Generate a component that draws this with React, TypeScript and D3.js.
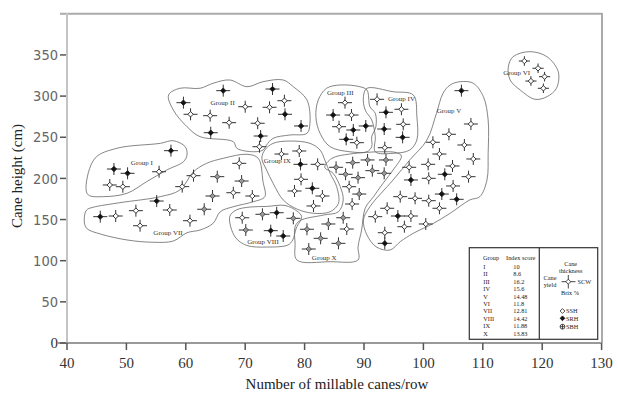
import React from "react";
import * as d3 from "d3";

type Pt = [number, number, string]; // x, y, type: o = SSH, b = SRH, g = SBH

const groupNames = ["I", "II", "III", "IV", "V", "VI", "VII", "VIII", "IX", "X"];
const indexScores = ["10", "8.6", "16.2", "15.6", "14.48", "11.8", "12.81", "14.42", "11.88", "13.83"];
const xTicks = [40, 50, 60, 70, 80, 90, 100, 110, 120, 130];
const yTicks = [0, 50, 100, 150, 200, 250, 300, 350];

const groupI: Pt[] = [
    [57.5, 233.7, "b"], [47.9, 211.4, "b"], [50.2, 206.2, "b"], [55.5, 208.1, "o"],
    [47.2, 192, "o"], [49.4, 189.9, "o"],
];
const groupII: Pt[] = [
    [59.6, 292, "b"], [60.8, 277.9, "o"], [66.3, 306.6, "b"], [64.1, 276.2, "o"],
    [67.3, 267.7, "o"], [70.0, 287.1, "o"], [64.2, 255.5, "b"], [74.6, 308.6, "b"],
    [76.6, 294.4, "o"], [74.1, 286.4, "o"], [76.7, 277.9, "b"], [72.1, 267, "o"],
    [79.4, 263.7, "b"], [72.6, 251.5, "b"], [72.4, 238.5, "o"],
];
const groupIII: Pt[] = [
    [86.8, 292, "o"], [84.8, 277, "b"], [87.9, 277, "o"], [85.8, 262.8, "o"],
    [88.2, 258.8, "b"], [90.3, 263.7, "b"], [87.0, 247.5, "b"], [88.8, 243.4, "o"],
];
const groupIV: Pt[] = [
    [92.2, 296.1, "o"], [93.7, 280.3, "b"], [96.3, 284, "o"], [93.4, 260, "b"],
    [96.6, 265.7, "o"], [96.5, 249.9, "b"], [93.5, 237.3, "o"],
];
const groupV: Pt[] = [
    [106.4, 306.6, "b"], [108.0, 266.1, "o"], [104.3, 253.6, "o"], [101.6, 243.9, "o"],
    [106.9, 240.6, "o"], [102.7, 229.6, "o"], [108.4, 223.6, "o"], [100.8, 217.1, "o"],
    [104.9, 215.1, "o"], [103.6, 205, "b"], [107.6, 202.1, "o"], [97.6, 213.5, "o"],
    [97.9, 198.1, "b"], [100.9, 200.1, "o"], [105.0, 190.8, "o"], [103.1, 181, "b"],
    [105.6, 174.6, "b"], [96.1, 177.8, "o"], [98.6, 175.8, "o"], [100.9, 172.9, "o"],
    [102.7, 163.7, "o"], [93.9, 163.7, "o"], [91.9, 153.5, "o"], [95.7, 154.3, "b"],
    [97.9, 154.3, "o"], [96.8, 141.3, "o"], [100.4, 144.6, "o"], [93.5, 134, "o"],
    [93.5, 121.1, "b"],
];
const groupVI: Pt[] = [
    [117.0, 342.6, "o"], [119.3, 333.8, "o"], [120.4, 323.6, "o"], [118.1, 318.3, "o"],
    [120.2, 309.5, "o"],
];
const groupVII: Pt[] = [
    [45.6, 153.5, "b"], [48.2, 154.3, "o"], [51.6, 160.8, "o"], [52.3, 142.5, "o"],
    [55.1, 172.5, "b"], [57.3, 161.6, "o"], [60.7, 148.6, "o"], [63.1, 162.5, "g"],
    [64.5, 178.6, "g"], [59.4, 190, "o"], [61.3, 203.3, "o"], [65.3, 202.1, "g"],
    [69.4, 196.8, "g"], [68.0, 182.6, "o"], [71.2, 178.6, "o"], [69.0, 218.3, "o"],
];
const groupVIII: Pt[] = [
    [69.5, 152.2, "o"], [72.9, 156.4, "g"], [75.3, 158.3, "b"], [78.1, 151.5, "g"],
    [70.1, 137.3, "g"], [74.3, 136.5, "b"], [76.4, 130, "b"],
];
const groupIX: Pt[] = [
    [76.1, 229.6, "o"], [79.1, 233.3, "o"], [79.3, 217.1, "b"], [82.2, 217.1, "o"],
    [79.4, 198.9, "o"], [81.3, 188, "b"], [78.3, 184.7, "o"], [83.0, 178.6, "o"],
    [81.5, 166.5, "o"],
];
const groupX: Pt[] = [
    [80.4, 138.2, "g"], [84.0, 144.6, "g"], [87.1, 138.5, "o"], [86.5, 152.2, "g"],
    [82.7, 127.2, "g"], [85.7, 121.1, "g"], [80.7, 114.2, "g"], [85.3, 213.5, "g"],
    [88.1, 219.1, "g"], [90.6, 222.4, "g"], [93.7, 222.4, "g"], [86.9, 205, "g"],
    [89.0, 200.9, "g"], [91.4, 209.4, "g"], [93.4, 206.2, "g"], [87.5, 189.9, "o"],
    [89.2, 181, "g"], [88.0, 168.9, "o"],
];

// hand-drawn cluster outlines, in data units
const outlineI = [[43.2, 189.2], [44.7, 224.4], [48.4, 236.6], [55.7, 242.6], [57.9, 245.8], [59.9, 238.5], [60.2, 228.4], [59.6, 220.3], [56.8, 210.2], [53.4, 196], [50.1, 181.9], [46.1, 177.8], [43.6, 179.8]];
const outlineII = [[57.1, 301.3], [59.0, 309.5], [62.4, 309.5], [64.6, 315.6], [67.4, 319.6], [70.3, 311.4], [73.0, 317.5], [76.4, 319.6], [78.1, 311.4], [80.4, 295.3], [80.9, 267], [80.4, 254.8], [77.5, 252.7], [74.7, 248.7], [73.6, 240.6], [73.0, 234.5], [71.4, 232.4], [68.6, 236.6], [68.0, 244.6], [62.4, 250.7], [60.2, 262.8], [57.9, 283.1]];
const outlineIII = [[82.3, 295.3], [83.7, 309.5], [86.0, 313.5], [89.3, 311.4], [90.5, 307.4], [91.0, 287.1], [91.9, 279.1], [92.0, 262.8], [91.3, 250.7], [91.3, 238.5], [90.5, 232.4], [87.6, 232.4], [84.3, 238.5], [82.6, 254.8], [81.9, 275]];
const outlineIV = [[89.9, 299.3], [90.5, 309.5], [94.9, 305.3], [98.3, 301.3], [98.9, 275], [98.9, 246.7], [97.7, 234.5], [94.9, 230.5], [91.9, 232.4], [91.9, 250.7], [91.3, 271], [90.2, 283.1]];
const outlineV = [[104.5, 313.5], [106.2, 317.5], [108.4, 315.6], [110.1, 299.3], [110.9, 271], [110.9, 230.5], [110.7, 198.1], [109.5, 177.8], [107.8, 173.8], [104.5, 157.6], [101.7, 145.4], [98.3, 133.3], [96.1, 123.1], [94.4, 113], [92.1, 116.6], [90.5, 131.2], [89.9, 149.5], [91.0, 165.6], [94.9, 198.1], [97.7, 222.4], [100.6, 246.7], [102.2, 279.1], [103.3, 303.4]];
const outlineVI = [[114.3, 335.7], [115.1, 347.9], [117.9, 354], [120.8, 347.9], [122.7, 329.6], [122.4, 309.5], [120.8, 299.3], [118.8, 296.1], [116.3, 307.4], [114.6, 319.6]];
const outlineVII = [[44.4, 164.9], [48.9, 170.5], [55.7, 177.8], [59.0, 185.9], [61.3, 208.1], [63.5, 218.3], [66.3, 224.4], [70.3, 229.3], [72.2, 224.4], [73.0, 196], [73.3, 177.8], [71.4, 171.7], [68.0, 165.6], [65.8, 159.5], [64.6, 145.4], [62.4, 137.3], [60.2, 134], [57.9, 123.9], [54.5, 122.4], [50.1, 125.2], [45.6, 132.5], [43.3, 139.4], [42.9, 149.5], [43.3, 161.6]];
const outlineVIII = [[67.4, 153.5], [68.5, 161.6], [70.8, 165.2], [73.6, 165.9], [76.7, 167.1], [78.7, 160.4], [79.5, 153.5], [78.6, 139.7], [78.0, 125.2], [77.2, 119.1], [73.6, 116.6], [70.3, 118.5], [68.3, 128.8]];
const outlineIX = [[73.3, 234.5], [74.7, 242.6], [77.5, 245.4], [80.9, 242.6], [82.6, 234.5], [83.4, 222.4], [84.3, 206.2], [85.4, 189.9], [85.7, 169.7], [84.3, 159.5], [81.5, 157.6], [78.7, 162.8], [76.4, 173.8], [74.7, 194], [73.6, 210.2], [72.8, 224.4]];
const outlineX = [[83.4, 213.5], [84.6, 224.4], [87.6, 229.6], [93.2, 232.4], [95.5, 231.2], [96.3, 227.2], [94.9, 210.2], [93.2, 194], [91.6, 177.8], [90.2, 163.7], [89.6, 137.3], [89.0, 117], [89.0, 100.9], [84.3, 98.8], [78.7, 100.9], [78.4, 121.1], [78.4, 141.3], [79.2, 148.6], [83.2, 155.5], [85.7, 159.5], [86.5, 173.8], [86.0, 189.9], [84.8, 206.2]];

// where each "Group ..." caption sits (data units)
const captionAt = [[52.6, 219.5], [66.2, 292], [86.0, 304.1], [96.3, 296.5], [104.3, 282.3], [115.7, 328.4], [57.0, 134], [73.0, 123.1], [75.4, 221.1], [83.3, 104.1]];

const groups = [groupI, groupII, groupIII, groupIV, groupV, groupVI, groupVII, groupVIII, groupIX, groupX];
const outlines = [outlineI, outlineII, outlineIII, outlineIV, outlineV, outlineVI, outlineVII, outlineVIII, outlineIX, outlineX];

const W = 618;
const H = 395;
const serif = "'Liberation Serif', 'Times New Roman', serif";
const narrow = "'DejaVu Sans Condensed', 'Liberation Sans Narrow', 'Arial Narrow', sans-serif";

const x = d3.scaleLinear().domain([40, 130]).range([67, 601.6]);
const y = d3.scaleLinear().domain([0, 400]).range([343, 13.8]);

const outlinePath = d3
    .line<number[]>()
    .x((d) => x(d[0]))
    .y((d) => y(d[1]))
    .curve(d3.curveCatmullRomClosed.alpha(0.5));

const Glyph: React.FC<{ cx: number; cy: number; type: string; arm?: number }> = ({ cx, cy, type, arm = 1 }) => {
    const r = 2.7;
    const fill = type === "b" ? "#111" : type === "g" ? "#999" : "#fff";
    const stroke = type === "g" ? "#444" : "#222";
    return (
        <g transform={`translate(${cx},${cy})`}>
            <line x1={-7 * arm} x2={7 * arm} y1={0} y2={0} stroke="#333" strokeWidth={1} />
            <line x1={0} x2={0} y1={-6 * arm} y2={6 * arm} stroke="#333" strokeWidth={1} />
            <path d={`M0,${-r}L${r},0L0,${r}L${-r},0Z`} fill={fill} stroke={stroke} strokeWidth={0.9} />
        </g>
    );
};

const App: React.FC = () => {
    const lx = 469.3, ly = 247.7, lw = 128.4, lh = 91.6, div = 539.3;
    return (
        <svg width={W} height={H} style={{ position: "absolute", left: 0, top: 0, background: "#fff" }}>
            {/* frame */}
            <line x1={60} x2={602} y1={13.8} y2={13.8} stroke="#aaa" strokeWidth={2} />
            <line x1={602} x2={602} y1={13} y2={343} stroke="#aaa" strokeWidth={2} />
            <line x1={67} x2={67} y1={13} y2={343} stroke="#c4c4c4" strokeWidth={2} />
            <line x1={58} x2={602} y1={343} y2={343} stroke="#999" strokeWidth={2} />

            {/* x axis */}
            {xTicks.map((t) => (
                <g key={t}>
                    <line x1={x(t)} x2={x(t)} y1={343} y2={350} stroke="#555" strokeWidth={1.5} />
                    <text x={x(t)} y={368} textAnchor="middle" fontFamily={serif} fontSize={15} fill="#333">
                        {t}
                    </text>
                </g>
            ))}
            {/* y axis */}
            {yTicks.map((t) => (
                <g key={t}>
                    <line x1={60} x2={66} y1={y(t)} y2={y(t)} stroke="#555" strokeWidth={1.5} />
                    <text
                        x={58}
                        y={y(t)}
                        dy="0.36em"
                        textAnchor="end"
                        fontFamily={t === 0 ? serif : narrow}
                        fontSize={t === 0 ? 15 : 14.5}
                        fill={t === 0 ? "#333" : "#666"}
                    >
                        {t}
                    </text>
                </g>
            ))}
            <text
                transform="translate(22,176) rotate(-90)"
                textAnchor="middle"
                fontFamily={serif}
                fontSize={15}
                fill="#222"
            >
                Cane height (cm)
            </text>
            <text x={337} y={389} textAnchor="middle" fontFamily={serif} fontSize={15} fill="#222">
                Number of millable canes/row
            </text>

            {/* cluster outlines */}
            {outlines.map((o, i) => (
                <path key={i} d={outlinePath(o) || ""} fill="none" stroke="#666" strokeWidth={0.8} />
            ))}

            {/* points */}
            {groups.map((g, gi) =>
                g.map((p, pi) => (
                    <Glyph key={`${gi}-${pi}`} cx={x(p[0])} cy={y(p[1])} type={p[2]} arm={gi === 5 ? 0.8 : 1} />
                ))
            )}

            {/* captions */}
            {captionAt.map((c, i) => (
                <text
                    key={i}
                    x={x(c[0])}
                    y={y(c[1])}
                    dy="0.35em"
                    textAnchor="middle"
                    fontFamily={serif}
                    fontSize={7}
                    fill="#333"
                >
                    Group {groupNames[i]}
                </text>
            ))}

            {/* legend */}
            <rect x={lx} y={ly} width={lw} height={lh} fill="#fff" stroke="#333" strokeWidth={1.2} />
            <line x1={div} x2={div} y1={ly} y2={ly + lh} stroke="#333" strokeWidth={1.2} />
            <g fontFamily={serif} fontSize={6.3} fill="#222">
                <text x={491} y={257.7} dy="0.35em" textAnchor="middle">Group</text>
                <text x={520.7} y={257.7} dy="0.35em" textAnchor="middle">Index score</text>
                {groupNames.map((n, i) => (
                    <g key={n}>
                        <text x={483.3} y={266.7 + i * 7.42} dy="0.35em">{n}</text>
                        <text x={513.3} y={266.7 + i * 7.42} dy="0.35em">{indexScores[i]}</text>
                    </g>
                ))}
                <text x={570.7} y={263.3} dy="0.35em" textAnchor="middle">Cane</text>
                <text x={570.7} y={270.7} dy="0.35em" textAnchor="middle">thickness</text>
                <text x={550} y={277.7} dy="0.35em" textAnchor="middle">Cane</text>
                <text x={550} y={285} dy="0.35em" textAnchor="middle">yield</text>
                <text x={577.5} y={281.7} dy="0.35em">SCW</text>
                <text x={570} y={292.5} dy="0.35em" textAnchor="middle">Brix %</text>
                <text x={566} y={311} dy="0.35em">SSH</text>
                <text x={566} y={318.3} dy="0.35em">SRH</text>
                <text x={566} y={326.7} dy="0.35em">SBH</text>
            </g>
            <line x1={561.5} x2={575.5} y1={281.7} y2={281.7} stroke="#333" strokeWidth={0.9} />
            <line x1={568.3} x2={568.3} y1={275} y2={288.5} stroke="#333" strokeWidth={0.9} />
            <path d="M568.3,279.2L570.8,281.7L568.3,284.2L565.8,281.7Z" fill="#fff" stroke="#222" strokeWidth={0.8} />
            <path d="M562.5,308.6L564.9,311L562.5,313.4L560.1,311Z" fill="#fff" stroke="#222" strokeWidth={0.8} />
            <path d="M562.5,315.9L564.9,318.3L562.5,320.7L560.1,318.3Z" fill="#111" stroke="#111" strokeWidth={0.8} />
            <circle cx={562.5} cy={326.7} r={2.4} fill="#fff" stroke="#222" strokeWidth={0.8} />
            <line x1={560.1} x2={564.9} y1={326.7} y2={326.7} stroke="#222" strokeWidth={0.8} />
            <line x1={562.5} x2={562.5} y1={324.3} y2={329.1} stroke="#222" strokeWidth={0.8} />
        </svg>
    );
};

export default App;
